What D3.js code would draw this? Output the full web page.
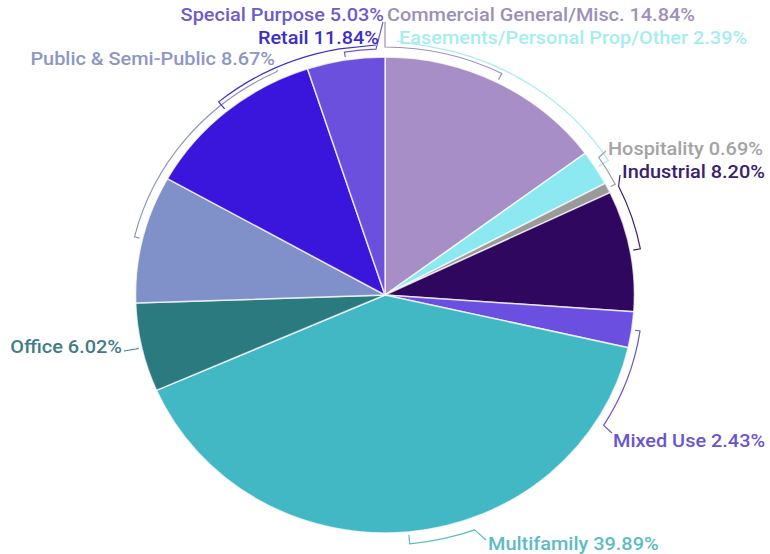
<!DOCTYPE html>
<html>
<head>
<meta charset="utf-8">
<script src="https://cdn.jsdelivr.net/npm/d3@7"></script>
<style>
  html, body { margin: 0; padding: 0; background: #fff; }
  svg { display: block; }
  .label { font-family: Roboto, sans-serif; font-weight: 500; font-size: 19px; }
</style>
</head>
<body>
<div id="chart"></div>
<script>
'use strict';

// data, clockwise from 12 o'clock
const categories = [
  'Commercial General/Misc.',
  'Easements/Personal Prop/Other',
  'Hospitality',
  'Industrial',
  'Mixed Use',
  'Multifamily',
  'Office',
  'Public & Semi-Public',
  'Retail',
  'Special Purpose'
];
const shares = [14.84, 2.39, 0.69, 8.20, 2.43, 39.89, 6.02, 8.67, 11.84, 5.03];

const sliceColors = ['#a88ec6', '#8de9f1', '#9a9a9a', '#30075f', '#6a4fe0',
  '#41b8c4', '#2a7a80', '#8090c8', '#3a16dc', '#6a50dc'];
const labelColors = ['#9c8fba', '#a6ecf0', '#a3a3a3', '#3a2070', '#6a55d0',
  '#5cbcc4', '#3f7d85', '#8e97c4', '#3c2ec8', '#6c5ccc'];

// label placement: text anchor point, connector offset and the angle where it leaves the rim
const labelLayout = [
  { x: 387, y: 14, anchor: 'start', off: 10, bend: 0, end: [385, 22] },
  { x: 399, y: 37, anchor: 'start', off: 14, bend: 10, end: [397, 41] },
  { x: 608, y: 148, anchor: 'start', off: 8, bend: 56, end: [606, 151] },
  { x: 622, y: 171, anchor: 'start', off: 10, bend: 64, end: [620, 175] },
  { x: 613, y: 440, anchor: 'start', off: 8, bend: 122, end: [612, 433] },
  { x: 488, y: 543, anchor: 'start', off: 12, bend: 160, end: [486, 540] },
  { x: 122, y: 346, anchor: 'end', off: 6, bend: null, end: [124, 351] },
  { x: 275, y: 58, anchor: 'end', off: 8, bend: 335, end: [278, 70] },
  { x: 379, y: 37, anchor: 'end', off: 12, bend: 350, end: [376, 45] },
  { x: 384, y: 14, anchor: 'end', off: 8, bend: 358, end: [383, 22] }
];

const width = 770, height = 554;
const cx = 385, cy = 295, radius = 238, sx = 1.048;

const rows = categories.map((c, i) => ({ name: c, value: shares[i], i: i }));

const svg = d3.select('#chart').append('svg')
  .attr('width', width)
  .attr('height', height);

const pie = d3.pie().sort(null).value((d) => d.value);
const arcs = pie(rows);

const plot = svg.append('g')
  .attr('transform', `translate(${cx},${cy}) scale(${sx},1)`);

const arc = d3.arc().innerRadius(0).outerRadius(radius);

plot.selectAll('path.slice')
  .data(arcs)
  .enter().append('path')
    .attr('class', 'slice')
    .attr('d', arc)
    .attr('fill', (d) => sliceColors[d.data.i])
    .attr('stroke', 'rgba(255,255,255,0.75)')
    .attr('stroke-width', 1.5)
    .attr('vector-effect', 'non-scaling-stroke');

const deg = Math.PI / 180;

function polar(r, a) {
  return [r * Math.sin(a), -r * Math.cos(a)];
}

function connector(d) {
  const lay = labelLayout[d.data.i];
  const mid = (d.startAngle + d.endAngle) / 2;
  const r = radius + lay.off;
  const p = d3.path();
  const t0 = polar(radius + 3, mid);
  const t1 = polar(r, mid);
  p.moveTo(t0[0], t0[1]);
  p.lineTo(t1[0], t1[1]);
  if (lay.bend !== null) {
    const b = lay.bend * deg;
    p.arc(0, 0, r, mid - Math.PI / 2, b - Math.PI / 2, b < mid);
  }
  p.lineTo((lay.end[0] - cx) / sx, lay.end[1] - cy);
  return p.toString();
}

plot.selectAll('path.tick')
  .data(arcs)
  .enter().append('path')
    .attr('class', 'tick')
    .attr('d', connector)
    .attr('fill', 'none')
    .attr('stroke', (d) => labelColors[d.data.i])
    .attr('stroke-width', 1.2)
    .attr('vector-effect', 'non-scaling-stroke');

svg.selectAll('text.label')
  .data(arcs)
  .enter().append('text')
    .attr('class', 'label')
    .attr('transform', (d) => {
      const lay = labelLayout[d.data.i];
      return `translate(${lay.x},${lay.y}) scale(${sx},1)`;
    })
    .attr('dy', '0.35em')
    .attr('text-anchor', (d) => labelLayout[d.data.i].anchor)
    .attr('fill', (d) => labelColors[d.data.i])
    .text((d) => `${d.data.name} ${d3.format('.2f')(d.data.value)}%`);
</script>
</body>
</html>
